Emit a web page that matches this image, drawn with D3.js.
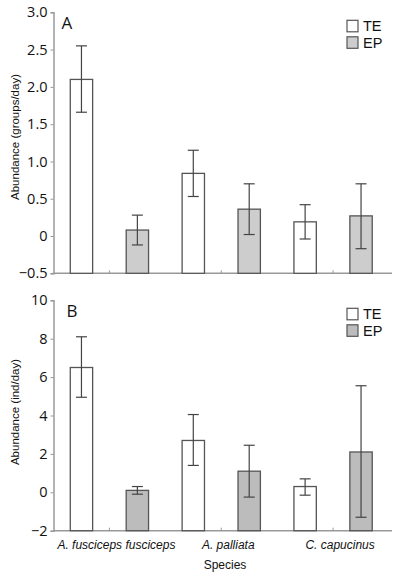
<!DOCTYPE html>
<html>
<head>
<meta charset="utf-8">
<script src="https://cdn.jsdelivr.net/npm/d3@7"></script>
<style>
  body { margin: 0; background: #fff; }
  svg { display: block; }
</style>
</head>
<body>
<div id="chart"></div>
<script>
// Data
//
var species   = ["A. fusciceps fusciceps", "A. palliata", "C. capucinus"];
var habitats  = ["TE", "EP"];

// Panel A: groups/day (order: species x habitat)
var groupsMean = [2.10, 0.08, 0.84, 0.36, 0.19, 0.27];
var groupsHigh = [2.55, 0.28, 1.15, 0.70, 0.42, 0.70];
var groupsLow  = [1.66, -0.12, 0.53, 0.02, -0.04, -0.17];
var groupsTicks = [-0.5, 0, 0.5, 1.0, 1.5, 2.0, 2.5, 3.0];

// Panel B: ind/day
var indMean = [6.5, 0.1, 2.7, 1.1, 0.3, 2.1];
var indHigh = [8.1, 0.3, 4.05, 2.45, 0.7, 5.55];
var indLow  = [4.95, -0.1, 1.4, -0.25, -0.15, -1.3];
var indTicks = [-2, 0, 2, 4, 6, 8, 10];

// Globals
//
var svg_width  = 394;
var svg_height = 580;
var x_box_min  = 53.5;
var x_box_max  = 389;
var axisColor  = '#999';

var svg = d3.select("#chart").append("svg")
    .attr('width', svg_width)
    .attr('height', svg_height);

// Bar slots and group centers
//
var slots = [];
species.forEach(function(s) { habitats.forEach(function(h) { slots.push(s + '|' + h); }); });

var x = d3.scaleBand()
    .domain(slots)
    .range([x_box_min, x_box_max])
    .paddingInner(0.6)
    .paddingOuter(0.3);

var xGroup = d3.scaleBand()
    .domain(species)
    .range([x_box_min, x_box_max])
    .padding(0);

var fillColors = { TE: '#ffffff' };

function drawPanel(opts) {
    let y = d3.scaleLinear()
        .domain(opts.domain)
        .range([opts.y_bot, opts.y_top]);

    let g = svg.append("g").attr("class", "panel");

    // Y axis
    //
    let yAxis = d3.axisLeft(y)
        .tickValues(opts.ticks)
        .tickSize(3)
        .tickFormat(opts.format);

    let ya = g.append("g")
        .attr("transform", `translate(${x_box_min},0)`)
        .call(yAxis);
    ya.select(".domain").attr("stroke", axisColor).attr("stroke-width", 1.5);
    ya.selectAll(".tick line").attr("stroke", axisColor);
    ya.selectAll(".tick text")
        .attr("x", -6)
        .style("font-family", "'Open Sans', sans-serif")
        .style("font-size", "14.5px")
        .attr("fill", "#111");

    // X axis
    //
    let xAxis = d3.axisBottom(xGroup)
        .tickSize(-3)
        .tickSizeOuter(0)
        .tickFormat(opts.showLabels ? (d => d) : (d => ''));

    let xa = g.append("g")
        .attr("transform", `translate(0,${opts.y_bot})`)
        .call(xAxis);
    xa.select(".domain").attr("stroke", axisColor).attr("stroke-width", 1.5)
        .attr("d", `M${x_box_min},0H${x_box_max + 3}`);
    xa.selectAll(".tick line").attr("stroke", axisColor);
    xa.selectAll(".tick text")
        .attr("y", 10)
        .attr("dx", 7)
        .style("font-family", "'Liberation Sans', Arial, sans-serif")
        .style("font-style", "italic")
        .style("font-size", "12px")
        .attr("fill", "#111");

    // Bars
    //
    let rows = slots.map(function(k, i) {
        return { key: k, hab: k.split('|')[1], mean: opts.mean[i], hi: opts.high[i], lo: opts.low[i] };
    });

    g.selectAll("rect.bar")
        .data(rows)
        .enter().append("rect")
        .attr("class", "bar")
        .attr("x", d => x(d.key))
        .attr("y", d => y(d.mean))
        .attr("width", x.bandwidth())
        .attr("height", d => y(opts.domain[0]) - y(d.mean))
        .attr("fill", d => d.hab === 'TE' ? fillColors.TE : opts.epFill)
        .attr("stroke", "#555")
        .attr("stroke-width", 1.3);

    // Error bars
    //
    let err = g.selectAll("g.err")
        .data(rows)
        .enter().append("g")
        .attr("class", "err")
        .attr("stroke", "#444")
        .attr("stroke-width", 1.2);

    err.append("line")
        .attr("x1", d => x(d.key) + x.bandwidth() / 2)
        .attr("x2", d => x(d.key) + x.bandwidth() / 2)
        .attr("y1", d => y(d.hi))
        .attr("y2", d => y(d.lo));
    err.append("line")
        .attr("x1", d => x(d.key) + x.bandwidth() / 2 - 5.5)
        .attr("x2", d => x(d.key) + x.bandwidth() / 2 + 5.5)
        .attr("y1", d => y(d.hi))
        .attr("y2", d => y(d.hi));
    err.append("line")
        .attr("x1", d => x(d.key) + x.bandwidth() / 2 - 5.5)
        .attr("x2", d => x(d.key) + x.bandwidth() / 2 + 5.5)
        .attr("y1", d => y(d.lo))
        .attr("y2", d => y(d.lo));

    // Panel letter
    //
    g.append("text")
        .attr("x", opts.letterX)
        .attr("y", opts.y_top + 17)
        .style("font-family", "'Open Sans', sans-serif")
        .style("font-size", "17px")
        .attr("fill", "#111")
        .text(opts.letter);

    // Y title
    //
    g.append("text")
        .attr("transform", `translate(19,${opts.titleY}) rotate(-90)`)
        .style("text-anchor", "middle")
        .style("font-family", "'Liberation Sans', Arial, sans-serif")
        .style("font-size", "11.5px")
        .attr("fill", "#111")
        .text(opts.title);

    // Legend
    //
    let legend = g.selectAll("g.legend")
        .data(habitats)
        .enter().append("g")
        .attr("class", "legend")
        .attr("transform", (d, i) => `translate(347,${opts.y_top + 8 + i * 16.5})`);
    legend.append("rect")
        .attr("width", 11)
        .attr("height", 11.5)
        .attr("fill", d => d === 'TE' ? fillColors.TE : opts.epFill)
        .attr("stroke", "#555")
        .attr("stroke-width", 1.2);
    legend.append("text")
        .attr("x", 16)
        .attr("y", 11)
        .style("font-family", "'Liberation Sans', Arial, sans-serif")
        .style("font-size", "14.5px")
        .attr("fill", "#111")
        .text(d => d);
}

drawPanel({
    domain: [-0.5, 3], ticks: groupsTicks, y_top: 12.3, y_bot: 273.3,
    format: d => d === 0 ? '0' : d3.format(".1f")(d),
    mean: groupsMean, high: groupsHigh, low: groupsLow,
    epFill: '#cdcdcd', letter: 'A', letterX: 61.5,
    title: 'Abundance (groups/day)', titleY: 137, showLabels: false
});

drawPanel({
    domain: [-2, 10], ticks: indTicks, y_top: 300.3, y_bot: 530.7,
    format: d3.format("d"),
    mean: indMean, high: indHigh, low: indLow,
    epFill: '#bcbcbc', letter: 'B', letterX: 66.5,
    title: 'Abundance (ind/day)', titleY: 412, showLabels: true
});

// X title
//
svg.append("text")
    .attr("x", 225)
    .attr("y", 569)
    .style("text-anchor", "middle")
    .style("font-family", "'Liberation Sans', Arial, sans-serif")
    .style("font-size", "12px")
    .attr("fill", "#111")
    .text("Species");
</script>
</body>
</html>
